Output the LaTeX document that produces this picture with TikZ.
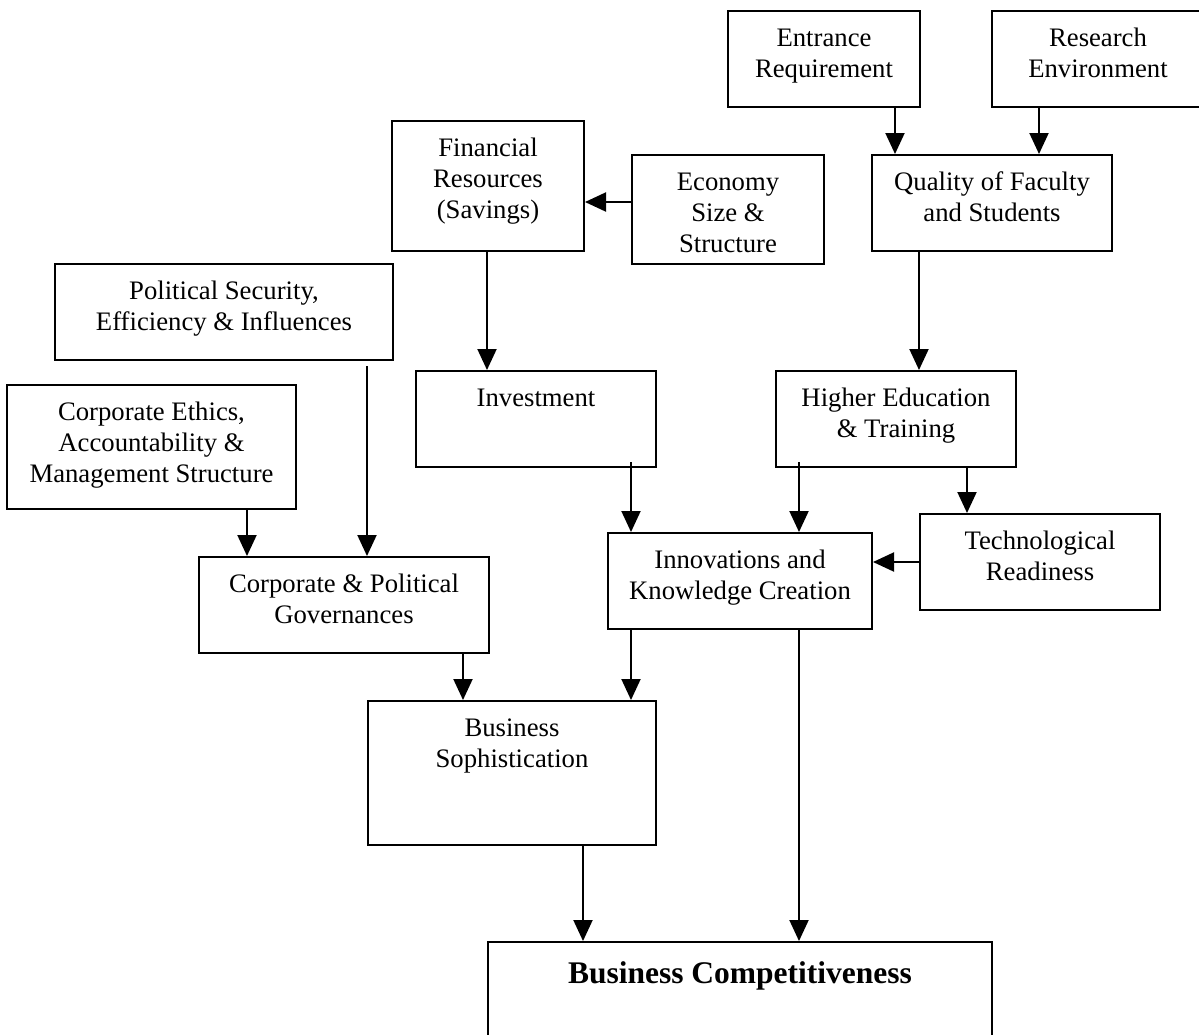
\documentclass[tikz,border=0pt]{standalone}
\usepackage{fontspec}
\setmainfont{Liberation Serif}
\usetikzlibrary{arrows.meta}
\tikzset{
  box/.style={draw, line width=2pt, inner sep=0pt, anchor=north west},
  lbl/.style={font=\fontsize{26.7}{31}\selectfont, align=center, inner sep=0pt, anchor=north},
  arr/.style={line width=2pt, -{Triangle[length=21pt,width=19pt]}}
}
\begin{document}
\begin{tikzpicture}[x=1pt,y=-1pt]
\useasboundingbox (0,0) rectangle (1199,1034);
\clip (0,0) rectangle (1199,1034);
\fill[white] (0,0) rectangle (1199,1034);
% boxes
\node[box, minimum width=192pt, minimum height=96pt]  (ent) at (727,10) {};
\node[box, minimum width=260pt, minimum height=96pt]  (res) at (991,10) {};
\node[box, minimum width=240pt, minimum height=96pt]  (qual) at (871,154) {};
\node[box, minimum width=192pt, minimum height=130pt] (fin) at (391,120) {};
\node[box, minimum width=192pt, minimum height=109pt] (eco) at (631,154) {};
\node[box, minimum width=338pt, minimum height=96pt]  (pol) at (54,263) {};
\node[box, minimum width=289pt, minimum height=124pt] (eth) at (6,384) {};
\node[box, minimum width=240pt, minimum height=96pt]  (inv) at (415,370) {};
\node[box, minimum width=240pt, minimum height=96pt]  (hed) at (775,370) {};
\node[box, minimum width=264pt, minimum height=96pt]  (inn) at (607,532) {};
\node[box, minimum width=240pt, minimum height=96pt]  (tec) at (919,513) {};
\node[box, minimum width=290pt, minimum height=96pt]  (cpg) at (198,556) {};
\node[box, minimum width=288pt, minimum height=144pt] (bso) at (367,700) {};
\node[box, minimum width=504pt, minimum height=130pt] (bc) at (487,941) {};
% labels
\node[lbl] (entT) at ([yshift=-14.3pt]ent.north) {\strut Entrance\\Requirement};
\node[lbl] (resT) at ([shift={(107,14.3)}]res.north west) {\strut Research\\Environment};
\node[lbl] (qualT) at ([yshift=-14.3pt]qual.north) {\strut Quality of Faculty\\and Students};
\node[lbl] (finT) at ([yshift=-14.3pt]fin.north) {\strut Financial\\Resources\\(Savings)};
\node[lbl] (ecoT) at ([yshift=-14.3pt]eco.north) {\strut Economy\\Size \&\\Structure};
\node[lbl] (polT) at ([yshift=-14.3pt]pol.north) {\strut Political Security,\\Efficiency \& Influences};
\node[lbl] (ethT) at ([yshift=-14.3pt]eth.north) {\strut Corporate Ethics,\\Accountability \&\\Management Structure};
\node[lbl] (invT) at ([yshift=-14.3pt]inv.north) {\strut Investment};
\node[lbl] (hedT) at ([yshift=-14.3pt]hed.north) {\strut Higher Education\\\& Training};
\node[lbl] (innT) at ([yshift=-14.3pt]inn.north) {\strut Innovations and\\Knowledge Creation};
\node[lbl] (tecT) at ([yshift=-14.3pt]tec.north) {\strut Technological\\Readiness};
\node[lbl] (cpgT) at ([yshift=-14.3pt]cpg.north) {\strut Corporate \& Political\\Governances};
\node[lbl] (bsoT) at ([yshift=-14.3pt]bso.north) {\strut Business\\Sophistication};
\node[inner sep=0pt, anchor=base, font=\fontsize{31.5}{37}\selectfont\bfseries] (bcT) at ([yshift=-42pt]bc.north) {Business Competitiveness};
% connector start points
\coordinate (s1) at ([shift={(168,0)}]ent.south west);
\coordinate (s2) at ([shift={(48,0)}]res.south west);
\coordinate (s3) at ([shift={(0,48)}]eco.north west);
\coordinate (s4) at ([shift={(96,0)}]fin.south west);
\coordinate (s5) at ([shift={(48,0)}]qual.south west);
\coordinate (s6) at ([shift={(313,5)}]pol.south west);
\coordinate (s7) at ([shift={(241,0)}]eth.south west);
\coordinate (s8) at ([shift={(216,-6)}]inv.south west);
\coordinate (s9) at ([shift={(24,-6)}]hed.south west);
\coordinate (s10) at ([shift={(192,0)}]hed.south west);
\coordinate (s11) at ([shift={(0,49)}]tec.north west);
\coordinate (s12) at ([shift={(265,0)}]cpg.south west);
\coordinate (s13) at ([shift={(24,0)}]inn.south west);
\coordinate (s14) at ([shift={(192,0)}]inn.south west);
\coordinate (s15) at ([shift={(216,0)}]bso.south west);
% connectors
\draw[arr] (s1) -- (s1 |- qual.north);
\draw[arr] (s2) -- (s2 |- qual.north);
\draw[arr] (s3) -- (s3 -| fin.east);
\draw[arr] (s4) -- (s4 |- inv.north);
\draw[arr] (s5) -- (s5 |- hed.north);
\draw[arr] (s6) -- (s6 |- cpg.north);
\draw[arr] (s7) -- (s7 |- cpg.north);
\draw[arr] (s8) -- (s8 |- inn.north);
\draw[arr] (s9) -- (s9 |- inn.north);
\draw[arr] (s10) -- (s10 |- tec.north);
\draw[arr] (s11) -- (s11 -| inn.east);
\draw[arr] (s12) -- (s12 |- bso.north);
\draw[arr] (s13) -- (s13 |- bso.north);
\draw[arr] (s14) -- (s14 |- bc.north);
\draw[arr] (s15) -- (s15 |- bc.north);
\end{tikzpicture}
\end{document}
